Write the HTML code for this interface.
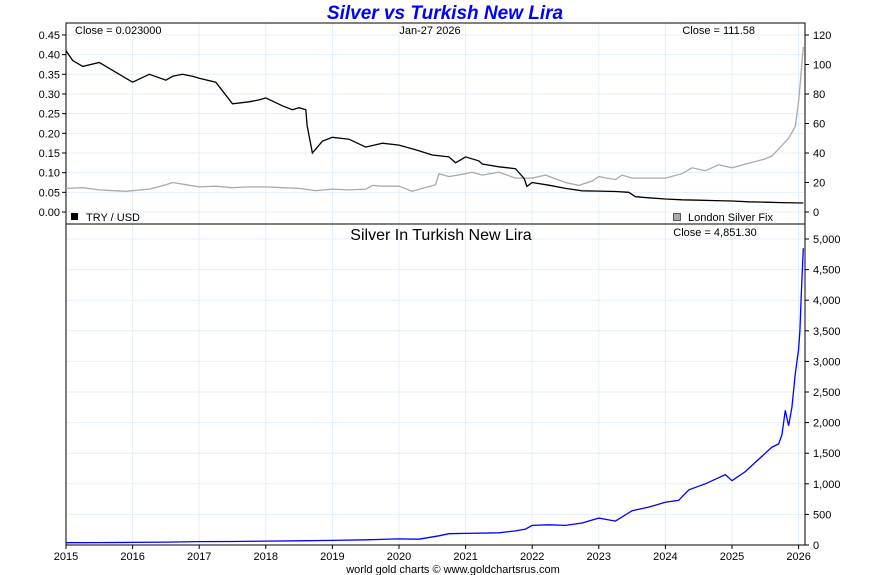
<!DOCTYPE html>
<html><head><meta charset="utf-8"><style>
body{margin:0;background:#fff;font-family:"Liberation Sans",sans-serif}
svg{display:block}
</style></head><body>
<svg id="c" width="890" height="575" xmlns="http://www.w3.org/2000/svg" font-family="Liberation Sans, sans-serif"></svg>
<script>
const years=[2015,2016,2017,2018,2019,2020,2021,2022,2023,2024,2025,2026];
const leftTicks=[0,0.05,0.1,0.15,0.2,0.25,0.3,0.35,0.4,0.45];
const rightTicks=[0,20,40,60,80,100,120];
const bottomTicks=[0,500,1000,1500,2000,2500,3000,3500,4000,4500,5000];
const tryT=[2015,2015.1,2015.25,2015.5,2015.75,2016,2016.25,2016.5,2016.6,2016.75,2016.9,2017,2017.25,2017.5,2017.75,2017.9,2018,2018.25,2018.4,2018.5,2018.6,2018.62,2018.7,2018.85,2019,2019.25,2019.5,2019.75,2020,2020.25,2020.5,2020.75,2020.85,2021,2021.2,2021.25,2021.5,2021.75,2021.88,2021.92,2022,2022.25,2022.5,2022.75,2023,2023.25,2023.45,2023.55,2023.75,2024,2024.25,2024.5,2024.75,2025,2025.25,2025.5,2025.75,2026.07];
const tryV=[0.41,0.385,0.37,0.38,0.355,0.33,0.35,0.335,0.345,0.35,0.345,0.34,0.33,0.275,0.28,0.285,0.29,0.27,0.26,0.265,0.26,0.22,0.15,0.18,0.19,0.185,0.165,0.175,0.17,0.158,0.145,0.14,0.125,0.14,0.13,0.122,0.115,0.11,0.085,0.065,0.075,0.068,0.06,0.054,0.053,0.052,0.05,0.039,0.036,0.033,0.031,0.03,0.029,0.028,0.026,0.025,0.024,0.023];
const agT=[2015,2015.25,2015.5,2015.9,2016.25,2016.5,2016.6,2016.8,2017,2017.25,2017.5,2017.75,2018,2018.25,2018.5,2018.75,2019,2019.25,2019.5,2019.6,2019.75,2020,2020.2,2020.35,2020.55,2020.6,2020.75,2021,2021.1,2021.25,2021.5,2021.75,2022,2022.2,2022.5,2022.7,2022.9,2023,2023.25,2023.35,2023.5,2023.75,2024,2024.25,2024.4,2024.6,2024.8,2025,2025.25,2025.5,2025.6,2025.75,2025.85,2025.95,2026,2026.03,2026.07];
const agV=[16,16.5,15,14,15.5,18.5,20,18.5,17,17.5,16.5,17,17,16.5,16,14.5,15.5,15,15.5,18,17.5,17.5,14,16,18.5,26,24,26,27,25,27,23,23,25,20,18,21,24,22,25,23,23,23,26,30,28,32,30,33,36,38,45,50,58,75,90,112];
const tlT=[2015,2015.5,2016,2016.5,2017,2017.5,2018,2018.5,2019,2019.5,2020,2020.3,2020.6,2020.75,2021,2021.5,2021.75,2021.9,2022,2022.25,2022.5,2022.75,2023,2023.25,2023.5,2023.75,2024,2024.2,2024.35,2024.5,2024.6,2024.8,2024.9,2025,2025.2,2025.3,2025.5,2025.6,2025.7,2025.75,2025.8,2025.85,2025.9,2025.95,2026,2026.02,2026.04,2026.07];
const tlV=[38,40,42,48,56,58,64,68,75,85,100,95,150,185,190,200,230,260,320,330,320,360,440,390,560,620,700,730,900,960,1000,1100,1150,1050,1200,1300,1500,1600,1650,1800,2200,1950,2250,2800,3200,3500,4100,4850];

const S=document.getElementById('c');const NS='http://www.w3.org/2000/svg';
function el(t,a,p){const e=document.createElementNS(NS,t);for(const k in a)e.setAttribute(k,a[k]);(p||S).appendChild(e);return e;}
function tx(s,x,y,size,anchor,name,extra){const e=el('text',Object.assign({x:x,y:y,'font-size':size,'text-anchor':anchor||'start',fill:'#000'},extra||{}));e.textContent=s;return e;}
const X0=66,X1=805;
const xs=t=>66+(t-2015)*66.6;
const yL=v=>212-v/0.05*19.67;
const yR=v=>212-v/120*177;
const yB=v=>545-v/5000*306;
// grids
const g=el('g',{stroke:'#e3effa','stroke-width':1});
years.forEach(y=>{const x=xs(y);el('line',{x1:x,x2:x,y1:23,y2:545},g);});
leftTicks.forEach(v=>el('line',{x1:X0,x2:X1,y1:yL(v),y2:yL(v)},g));
bottomTicks.forEach(v=>el('line',{x1:X0,x2:X1,y1:yB(v),y2:yB(v)},g));
// frame
const f=el('rect',{x:X0,y:23,width:X1-X0,height:522,fill:'none',stroke:'#000'});
const d=el('line',{x1:X0,x2:X1,y1:224,y2:224,stroke:'#000'});
// ticks
leftTicks.forEach(v=>{el('line',{x1:X0-4,x2:X0,y1:yL(v),y2:yL(v),stroke:'#000'});tx(v.toFixed(2),X0-6,yL(v)+4,11,'end','left-tick-label');});
rightTicks.forEach(v=>{el('line',{x1:X1,x2:X1+4,y1:yR(v),y2:yR(v),stroke:'#000'});tx(String(v),X1+8,yR(v)+4,11,'start','right-tick-label');});
bottomTicks.forEach(v=>{el('line',{x1:X1,x2:X1+4,y1:yB(v),y2:yB(v),stroke:'#000'});tx(v.toLocaleString('en-US'),X1+8,yB(v)+4,11,'start','bottom-right-tick-label');});
years.forEach(y=>{el('line',{x1:xs(y),x2:xs(y),y1:545,y2:549,stroke:'#000'});tx(String(y),xs(y),560,11,'middle','x-tick-label');});
// series
function line(T,V,fx,fy,col,name){const p=el('polyline',{points:T.map((t,i)=>fx(t).toFixed(1)+','+fy(V[i]).toFixed(1)).join(' '),fill:'none',stroke:col,'stroke-width':1.3});}
line(agT,agV,xs,yR,'#aaa','silver-usd-line');
line(tryT,tryV,xs,yL,'#000','try-usd-line');
line(tlT,tlV,xs,yB,'#0000ff','silver-try-line');
// labels
tx('Silver vs Turkish New Lira',445,19,19,'middle','chart-title',{fill:'#0000ff','font-weight':'bold','font-style':'italic'});
tx('Close = 0.023000',75,34,11,'start','try-close-label');
tx('Jan-27  2026',430,34,11,'middle','date-label');
tx('Close = 111.58',755,34,11,'end','silver-close-label');
const lb1=el('rect',{x:71,y:213,width:7,height:7,fill:'#000'});
tx('TRY / USD',86,221,11,'start','legend-try-usd');
const lb2=el('rect',{x:673.5,y:213.5,width:7,height:7,fill:'#aaa',stroke:'#000','stroke-width':0.6});
tx('London Silver Fix',688,221,11,'start','legend-london-silver-fix');
tx('Silver In Turkish New Lira',441,240,16,'middle','bottom-panel-title');
tx('Close = 4,851.30',715,236,11,'middle','bottom-close-label');
tx('world gold charts © www.goldchartsrus.com',453,573,11,'middle','footer-credit');
</script>
</body></html>
